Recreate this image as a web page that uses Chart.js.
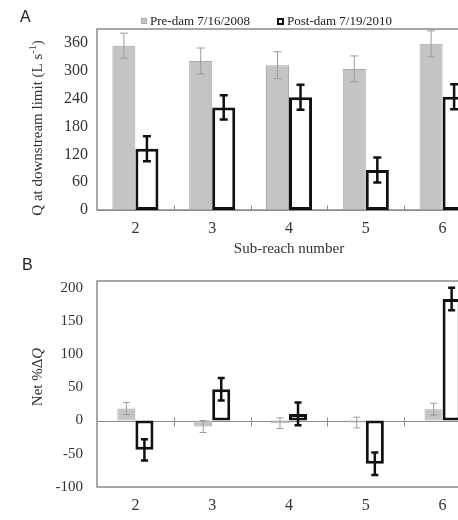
<!DOCTYPE html>
<html>
<head>
<meta charset="utf-8">
<script src="https://cdn.jsdelivr.net/npm/chart.js@4"></script>
<style>
  html, body { margin: 0; padding: 0; background: #fff; overflow: hidden; width: 458px; height: 520px; }
  canvas { display: block; }
</style>
</head>
<body>
<canvas id="chartA" width="490" height="258"></canvas>
<canvas id="chartB" width="490" height="262"></canvas>
<script>
const subReaches = ['2', '3', '4', '5', '6'];
const preLabel = 'Pre-dam 7/16/2008';
const postLabel = 'Post-dam 7/19/2010';

// panel A: Q at downstream limit (L/s)
const preQ = [354, 321, 312, 304, 358];
const preQErr = [27, 28, 29, 28, 28];
const postQ = [132, 221, 243, 86, 244];
const postQErr = [27, 26, 27, 27, 27];
const qTicks = [0, 60, 120, 180, 240, 300, 360];

// panel B: net % change in Q
const preNet = [18, -9, -4, -3, 17];
const preNetErr = [9, 9, 8, 8, 9];
const postNet = [-44, 47, 10, -65, 183];
const postNetErr = [16, 17, 17, 17, 17];
const netTicks = [-100, -50, 0, 50, 100, 150, 200];

const SERIF = "'Liberation Serif', 'Times New Roman', serif";
Chart.defaults.font.family = SERIF;
Chart.defaults.color = '#333';

const FRAME = '#8a8a8a';
const PRE_FILL = '#c4c4c4', PRE_EDGE = '#a9a9a9', PRE_ERR = '#9c9c9c';
const POST_EDGE = '#111';

function drawRotated(ctx, cx, cy, parts) {
    ctx.save();
    ctx.translate(cx, cy);
    ctx.rotate(-Math.PI / 2);
    let total = 0;
    parts.forEach(p => { ctx.font = p.font; p.w = ctx.measureText(p.text).width; total += p.w; });
    let x = -total / 2;
    ctx.textBaseline = 'middle';
    ctx.fillStyle = '#333';
    parts.forEach(p => { ctx.font = p.font; ctx.fillText(p.text, x, p.rise || 0); x += p.w; });
    ctx.restore();
}

const panelPlugin = {
    id: 'panel',
    beforeDatasetsDraw(chart, args, opts) {
        const {ctx, chartArea: a, scales: {x, y}} = chart;
        ctx.save();
        ctx.strokeStyle = FRAME;
        ctx.lineWidth = 1.5;
        ctx.strokeRect(a.left, a.top, a.right - a.left, a.bottom - a.top);
        // zero line and tick marks between the sub-reaches
        const y0 = Math.round(y.getPixelForValue(0)) + 0.5;
        ctx.lineWidth = 1;
        ctx.beginPath();
        ctx.moveTo(a.left, y0);
        ctx.lineTo(a.right, y0);
        for (let i = 1; i < x.ticks.length; i++) {
            const xb = Math.round((x.getPixelForTick(i - 1) + x.getPixelForTick(i)) / 2) + 0.5;
            ctx.moveTo(xb, y0 - opts.tickUp);
            ctx.lineTo(xb, y0 + opts.tickDown);
        }
        ctx.stroke();
        ctx.restore();
    },
    afterDatasetsDraw(chart) {
        const {ctx, scales: {y}} = chart;
        chart.data.datasets.forEach((ds, i) => {
            const meta = chart.getDatasetMeta(i);
            ctx.save();
            ctx.strokeStyle = ds.errColor;
            ctx.lineWidth = ds.errWidth;
            meta.data.forEach((bar, j) => {
                const v = ds.data[j], e = ds.errors[j];
                const top = y.getPixelForValue(v + e), bot = y.getPixelForValue(v - e);
                const hw = ds.capWidth / 2;
                ctx.beginPath();
                ctx.moveTo(bar.x, top); ctx.lineTo(bar.x, bot);
                ctx.moveTo(bar.x - hw, top); ctx.lineTo(bar.x + hw, top);
                ctx.moveTo(bar.x - hw, bot); ctx.lineTo(bar.x + hw, bot);
                ctx.stroke();
            });
            ctx.restore();
        });
    },
    afterDraw(chart, args, opts) {
        const ctx = chart.ctx;
        ctx.save();
        ctx.fillStyle = '#222';
        ctx.font = "16px 'Liberation Sans', Arial, sans-serif";
        ctx.textBaseline = 'alphabetic';
        ctx.fillText(opts.letter, opts.letterX, opts.letterY);
        ctx.restore();
        drawRotated(ctx, 38, opts.titleY, opts.titleParts);

        if (opts.legend) {
            const [pre, post] = chart.data.datasets;
            ctx.save();
            ctx.font = '13px ' + SERIF;
            ctx.textBaseline = 'alphabetic';
            ctx.fillStyle = pre.backgroundColor;
            ctx.fillRect(141, 18, 6, 6);
            ctx.strokeStyle = pre.borderColor;
            ctx.lineWidth = 1;
            ctx.strokeRect(141.5, 18.5, 5, 5);
            ctx.fillStyle = '#222';
            ctx.fillText(pre.label, 150, 25);
            ctx.strokeStyle = post.borderColor;
            ctx.lineWidth = 2;
            ctx.strokeRect(278, 19, 5, 5);
            ctx.fillText(post.label, 287, 25);
            ctx.restore();
        }
    }
};

function barOptions(p) {
    return {
        responsive: false,
        animation: false,
        layout: { padding: { top: p.top, right: 9, left: 0, bottom: 0 } },
        datasets: { bar: { categoryPercentage: p.catPct, barPercentage: 1 } },
        plugins: {
            legend: { display: false },
            tooltip: { enabled: false },
            panel: p.panel
        },
        scales: {
            x: {
                grid: { display: false, drawTicks: false },
                border: { display: false },
                ticks: { padding: 9, font: { size: 16 } },
                title: p.xTitle,
                afterFit: s => { s.height = p.xHeight; }
            },
            y: {
                min: p.min,
                max: p.max,
                grid: { display: false, drawTicks: false },
                border: { display: false },
                ticks: { padding: p.yPad, font: { size: p.ySize } },
                afterBuildTicks: s => { s.ticks = p.ticks.map(v => ({ value: v })); },
                afterFit: s => { s.width = 97; }
            }
        }
    };
}

new Chart(document.getElementById('chartA'), {
    type: 'bar',
    data: {
        labels: subReaches,
        datasets: [{
            label: preLabel, data: preQ, errors: preQErr,
            backgroundColor: PRE_FILL, borderColor: PRE_EDGE, borderWidth: 1, borderSkipped: false,
            errColor: PRE_ERR, errWidth: 1, capWidth: 8
        }, {
            label: postLabel, data: postQ, errors: postQErr,
            backgroundColor: '#fff', borderColor: POST_EDGE, borderWidth: 3, borderSkipped: false,
            errColor: POST_EDGE, errWidth: 2.5, capWidth: 8
        }]
    },
    options: barOptions({
        top: 29, catPct: 0.6, xHeight: 48, min: 0, max: 390, ticks: qTicks, yPad: 9, ySize: 16,
        xTitle: { display: true, text: 'Sub-reach number', font: { size: 15 }, padding: 0 },
        panel: {
            letter: 'A', letterX: 20, letterY: 22, legend: true, tickUp: 5, tickDown: 0, titleY: 128,
            titleParts: [
                { text: 'Q at downstream limit (L s', font: '15px ' + SERIF },
                { text: '-1', font: '10px ' + SERIF, rise: -5 },
                { text: ')', font: '15px ' + SERIF }
            ]
        }
    }),
    plugins: [panelPlugin]
});

new Chart(document.getElementById('chartB'), {
    type: 'bar',
    data: {
        labels: subReaches,
        datasets: [{
            label: preLabel, data: preNet, errors: preNetErr,
            backgroundColor: PRE_FILL, borderColor: PRE_EDGE, borderWidth: 1, borderSkipped: false,
            errColor: PRE_ERR, errWidth: 1, capWidth: 7
        }, {
            label: postLabel, data: postNet, errors: postNetErr,
            backgroundColor: '#fff', borderColor: POST_EDGE, borderWidth: 3, borderSkipped: false,
            errColor: POST_EDGE, errWidth: 2.5, capWidth: 7
        }]
    },
    options: barOptions({
        top: 19, catPct: 0.47, xHeight: 33, min: -100, max: 210, ticks: netTicks, yPad: 14, ySize: 15,
        xTitle: { display: false },
        panel: {
            letter: 'B', letterX: 22, letterY: 12, legend: false, tickUp: 4, tickDown: 5, titleY: 119,
            titleParts: [
                { text: 'Net %\u0394', font: '15px ' + SERIF },
                { text: 'Q', font: 'italic 15px ' + SERIF }
            ]
        }
    }),
    plugins: [panelPlugin]
});
</script>
</body>
</html>
